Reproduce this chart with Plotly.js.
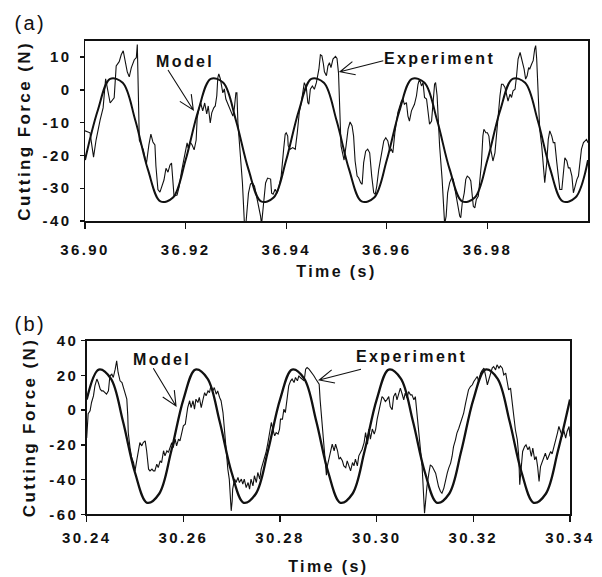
<!DOCTYPE html>
<html>
<head>
<meta charset="utf-8">
<script src="https://cdn.plot.ly/plotly-3.0.1.min.js"></script>
<style>
html,body{margin:0;padding:0;background:#fff;}
#chart svg text{letter-spacing:2.4px;}
</style>
</head>
<body>
<div id="chart" style="width:602px;height:577px;"></div>
<script>
// ---------- Panel (a): experiment ----------
const tA = [36.9000,36.9010,36.9017,36.9022,36.9030,36.9036,36.9041,36.9046,36.9050,36.9058,
36.9062,36.9068,36.9072,36.9076,36.9080,36.9084,36.9088,36.9092,36.9098,36.9102,
36.9104,36.9108,36.9116,36.9122,36.9127,36.9131,36.9135,36.9139,36.9141,36.9145,
36.9149,36.9157,36.9161,36.9165,36.9169,36.9172,36.9174,36.9177,36.9183,36.9187,
36.9192,36.9199,36.9203,36.9205,36.9209,36.9213,36.9217,36.9221,36.9223,36.9227,
36.9230,36.9234,36.9238,36.9242,36.9245,36.9249,36.9252,36.9256,36.9259,36.9262,
36.9264,36.9266,36.9269,36.9274,36.9277,36.9280,36.9283,36.9287,36.9290,36.9294,
36.9297,36.9300,36.9302,36.9304,36.9313,36.9317,36.9320,36.9325,36.9329,36.9333,
36.9337,36.9340,36.9345,36.9349,36.9351,36.9355,36.9359,36.9363,36.9369,36.9371,
36.9374,36.9378,36.9382,36.9385,36.9390,36.9395,36.9398,36.9400,36.9403,36.9404,
36.9408,36.9413,36.9418,36.9422,36.9426,36.9430,36.9433,36.9436,36.9440,36.9443,
36.9445,36.9448,36.9452,36.9456,36.9460,36.9463,36.9465,36.9468,36.9471,36.9474,
36.9476,36.9480,36.9483,36.9486,36.9489,36.9493,36.9498,36.9501,36.9504,36.9509,
36.9515,36.9519,36.9523,36.9527,36.9531,36.9534,36.9537,36.9541,36.9544,36.9548,
36.9551,36.9554,36.9558,36.9562,36.9566,36.9570,36.9574,36.9577,36.9580,36.9584,
36.9589,36.9594,36.9598,36.9602,36.9606,36.9609,36.9612,36.9616,36.9622,36.9629,
36.9632,36.9635,36.9639,36.9642,36.9645,36.9649,36.9652,36.9655,36.9659,36.9662,
36.9665,36.9669,36.9672,36.9675,36.9679,36.9682,36.9685,36.9689,36.9692,36.9695,
36.9697,36.9700,36.9702,36.9705,36.9710,36.9715,36.9718,36.9721,36.9725,36.9729,
36.9732,36.9735,36.9738,36.9742,36.9745,36.9747,36.9750,36.9754,36.9757,36.9760,
36.9764,36.9767,36.9770,36.9772,36.9775,36.9778,36.9782,36.9785,36.9788,36.9791,
36.9793,36.9797,36.9800,36.9803,36.9805,36.9808,36.9811,36.9815,36.9818,36.9821,
36.9825,36.9828,36.9831,36.9835,36.9838,36.9841,36.9845,36.9848,36.9851,36.9855,
36.9858,36.9861,36.9865,36.9868,36.9871,36.9873,36.9876,36.9879,36.9882,36.9884,
36.9888,36.9891,36.9894,36.9896,36.9898,36.9901,36.9904,36.9908,36.9911,36.9914,
36.9918,36.9921,36.9924,36.9928,36.9931,36.9934,36.9938,36.9941,36.9944,36.9948,
36.9951,36.9954,36.9958,36.9961,36.9964,36.9968,36.9971,36.9974,36.9978,36.9981,
36.9984,36.9987,36.9991,36.9994,36.9997,37.0000];
const fA = [-12.5,-13.1,-20.5,-15.3,-9.2,-5.5,3.4,-1.5,-4.0,-2.4,
7.3,8.6,10.7,11.9,8.3,5.5,4.0,6.7,9.2,9.8,
13.8,-15.3,-18.3,-22.6,-16.8,-13.5,-15.9,-16.8,-23.2,-30.4,
-31.2,-27.5,-23.9,-25.1,-22.9,-22.3,-26.3,-32.4,-32.1,-29.7,
-24.8,-18.7,-16.2,-17.7,-15.9,-16.8,-18.3,-15.3,-8.6,-5.5,
-4.0,-6.4,-4.0,-7.3,-4.9,-10.1,-7.0,-5.5,-4.9,-1.8,
3.7,4.9,3.4,-0.9,0.3,-2.8,-4.0,-5.5,-7.0,-8.0,
-5.5,-0.9,-0.9,-10.1,-28.4,-41,-40.7,-31.5,-28.7,-28.4,
-29.4,-31.5,-34.9,-38.5,-41,-34.6,-28.4,-26.9,-27.2,-31.5,
-31.8,-30.3,-31.5,-30.0,-26.3,-18.0,-13.5,-13.1,-14.1,-17.1,
-18.1,-17.6,-18.1,-13.1,-6.9,-3.9,-0.3,2.2,0.7,-3.9,
-4.4,0.2,1.2,0.2,2.2,4.3,6.3,10.7,10.4,7.9,
5.5,4.3,7.3,8.3,6.8,9.4,10.2,9.6,5.2,-17.1,
-21.4,-17.1,-12.0,-9.8,-11.0,-14.1,-21.7,-26.3,-26.8,-28.3,
-28.8,-22.2,-18.7,-18.1,-19.2,-26.3,-31.4,-31.9,-29.4,-24.3,
-19.2,-15.6,-14.6,-15.6,-18.7,-18.1,-19.2,-13.1,-6.9,-3.4,
-2.8,-4.4,-3.9,-8.0,-9.5,-6.4,-5.4,-4.4,-1.8,1.7,
3.3,1.2,2.2,-2.3,-2.8,-6.9,-10.5,-9.5,-2.3,1.7,
2.2,-1.8,-8.0,-17.1,-27.3,-41,-38.5,-31.4,-28.3,-26.8,
-27.3,-29.9,-31.4,-35.0,-38.5,-39.0,-34.5,-31.4,-27.3,-26.3,
-26.8,-27.8,-32.4,-35.5,-36.0,-33.4,-32.4,-28.3,-22.7,-14.1,
-12.0,-13.1,-13.1,-14.1,-17.1,-19.2,-21.7,-19.2,-14.1,-6.9,
-1.8,1.7,1.7,0.7,-1.8,-3.4,-1.3,-2.3,-0.3,0.2,
4.3,9.4,11.4,9.4,7.9,6.3,3.3,4.3,6.8,6.3,
7.9,8.9,12.4,13.5,9.4,-3.9,-12.0,-17.1,-23.2,-28.3,
-22.2,-15.1,-12.5,-14.1,-16.1,-16.1,-22.2,-27.3,-30.4,-30.4,
-24.3,-20.7,-21.7,-23.8,-23.8,-26.3,-31.4,-29.4,-27.3,-26.3,
-22.2,-18.1,-16.1,-15.6,-15.1,-16.1];

// ---------- Panel (a): model ----------
const tmA = [36.9000,36.9025,36.9050,36.9075,36.9100,36.9125,36.9150,36.9175,
36.9200,36.9225,36.9250,36.9275,36.9300,36.9325,36.9350,36.9375,
36.9400,36.9425,36.9450,36.9475,36.9500,36.9525,36.9550,36.9575,
36.9600,36.9625,36.9650,36.9675,36.9700,36.9725,36.9750,36.9775,
36.9800,36.9825,36.9850,36.9875,36.9900,36.9925,36.9950,36.9975,37.0000];
const mA = [-21.42,-6.43,3.34,2.16,-9.28,-24.27,-34.04,-32.86,
-21.42,-6.43,3.34,2.16,-9.28,-24.27,-34.04,-32.86,
-21.42,-6.43,3.34,2.16,-9.28,-24.27,-34.04,-32.86,
-21.42,-6.43,3.34,2.16,-9.28,-24.27,-34.04,-32.86,
-21.42,-6.43,3.34,2.16,-9.28,-24.27,-34.04,-32.86,-21.42];

// ---------- Panel (b): experiment ----------
const tB = [30.2400,30.2403,30.2407,30.2410,30.2414,30.2417,30.2421,30.2424,30.2428,30.2431,
30.2434,30.2438,30.2441,30.2445,30.2448,30.2452,30.2455,30.2459,30.2462,30.2465,
30.2469,30.2473,30.2476,30.2479,30.2483,30.2485,30.2486,30.2490,30.2493,30.2497,
30.2500,30.2504,30.2507,30.2510,30.2514,30.2517,30.2521,30.2524,30.2528,30.2531,
30.2535,30.2538,30.2541,30.2545,30.2548,30.2552,30.2555,30.2559,30.2562,30.2566,
30.2569,30.2573,30.2576,30.2579,30.2583,30.2586,30.2590,30.2593,30.2597,30.2600,
30.2604,30.2606,30.2609,30.2613,30.2616,30.2620,30.2623,30.2626,30.2630,30.2633,
30.2637,30.2640,30.2644,30.2647,30.2651,30.2654,30.2657,30.2661,30.2664,30.2668,
30.2671,30.2675,30.2678,30.2682,30.2684,30.2689,30.2692,30.2695,30.2699,30.2701,
30.2702,30.2706,30.2709,30.2713,30.2716,30.2720,30.2723,30.2726,30.2730,30.2734,
30.2737,30.2740,30.2744,30.2747,30.2751,30.2754,30.2758,30.2761,30.2765,30.2768,
30.2771,30.2775,30.2778,30.2782,30.2785,30.2789,30.2792,30.2796,30.2799,30.2801,
30.2805,30.2808,30.2811,30.2815,30.2818,30.2822,30.2825,30.2829,30.2832,30.2836,
30.2839,30.2842,30.2846,30.2850,30.2853,30.2856,30.2860,30.2863,30.2867,30.2870,
30.2874,30.2877,30.2881,30.2883,30.2887,30.2890,30.2894,30.2896,30.2898,30.2901,
30.2905,30.2908,30.2912,30.2915,30.2919,30.2922,30.2925,30.2929,30.2932,30.2936,
30.2939,30.2943,30.2946,30.2950,30.2953,30.2956,30.2960,30.2963,30.2967,30.2970,
30.2974,30.2977,30.2981,30.2984,30.2987,30.2991,30.2995,30.2998,30.3001,30.3004,
30.3008,30.3011,30.3014,30.3018,30.3021,30.3025,30.3028,30.3032,30.3035,30.3039,
30.3042,30.3045,30.3049,30.3053,30.3056,30.3059,30.3063,30.3066,30.3070,30.3073,
30.3077,30.3080,30.3084,30.3087,30.3090,30.3094,30.3099,30.3101,30.3104,30.3108,
30.3111,30.3115,30.3118,30.3122,30.3125,30.3128,30.3132,30.3135,30.3139,30.3142,
30.3146,30.3149,30.3153,30.3156,30.3159,30.3163,30.3166,30.3170,30.3173,30.3177,
30.3180,30.3184,30.3187,30.3190,30.3194,30.3198,30.3201,30.3204,30.3208,30.3211,
30.3215,30.3218,30.3222,30.3225,30.3229,30.3232,30.3235,30.3239,30.3242,30.3246,
30.3249,30.3253,30.3256,30.3260,30.3263,30.3267,30.3270,30.3273,30.3277,30.3280,
30.3284,30.3287,30.3291,30.3294,30.3296,30.3299,30.3302,30.3306,30.3309,30.3313,
30.3316,30.3320,30.3323,30.3327,30.3330,30.3333,30.3336,30.3339,30.3343,30.3346,
30.3349,30.3353,30.3356,30.3360,30.3363,30.3367,30.3370,30.3374,30.3377,30.3380,
30.3384,30.3387,30.3391,30.3394,30.3398,30.3400];
const fB = [-16.0,-2.1,-0.4,4.4,8.2,14.0,17.9,15.9,12.1,11.1,
11.1,10.1,9.2,11.1,19.8,20.7,18.8,23.6,28.4,21.7,
16.9,15.9,13.0,10.1,6.3,-3.3,-12.9,-22.5,-27.3,-30.2,
-35.0,-28.2,-23.4,-18.7,-20.6,-18.7,-17.7,-23.4,-34.0,-35.0,
-34.0,-35.0,-35.0,-31.1,-33.1,-29.2,-30.2,-23.4,-26.3,-23.4,
-24.4,-20.6,-18.7,-21.6,-16.7,-20.6,-16.7,-17.7,-12.9,-9.0,
-8.1,-3.3,1.5,5.4,1.5,5.4,0.6,6.3,4.4,7.3,
1.5,5.4,10.1,8.2,11.1,10.1,14.0,11.1,13.0,9.2,
11.1,7.3,5.4,-1.4,-9.0,-28.2,-34.0,-39.7,-58.0,-52.3,
-45.5,-39.7,-41.7,-38.8,-41.7,-39.7,-42.6,-39.7,-44.6,-41.7,
-45.5,-39.7,-43.6,-37.8,-41.7,-35.9,-39.7,-34.0,-30.2,-28.2,
-24.4,-18.7,-12.9,-7.1,-10.9,-14.8,-12.9,-13.8,-10.9,-5.2,
-5.2,0.6,-1.4,9.2,14.0,16.9,17.9,15.9,18.8,16.9,
19.8,18.8,17.9,16.9,23.6,24.5,23.6,22.6,20.7,19.8,
17.9,16.9,15.0,5.9,-7.5,-21.0,-34.4,-37.5,-32.1,-28.2,
-23.4,-19.6,-23.4,-19.6,-23.4,-28.2,-27.3,-29.2,-32.1,-33.1,
-29.2,-32.1,-35.0,-30.2,-32.1,-28.2,-32.1,-26.3,-24.4,-22.5,
-18.7,-12.9,-19.6,-10.9,-16.7,-10.9,-13.8,-10.9,-5.2,-1.7,
4.0,7.8,6.9,5.0,5.9,7.8,2.1,0.2,7.8,9.8,
5.9,8.8,12.7,9.0,5.9,9.8,7.0,10.7,8.8,8.8,
5.9,7.8,-3.7,-12.3,-21.0,-32.5,-59.4,-51.7,-44.0,-36.3,
-31.5,-32.5,-34.4,-36.3,-40.2,-44.0,-46.9,-47.8,-44.9,-40.2,
-36.3,-33.4,-30.5,-26.7,-21.0,-17.1,-13.2,-10.4,-7.5,-4.6,
-1.7,4.0,7.8,11.7,13.6,14.6,16.5,17.5,19.4,16.5,
21.3,22.8,24.2,20.3,14.6,17.5,20.3,24.2,25.1,23.2,
26.1,24.2,25.5,24.2,20.3,21.3,16.5,11.7,12.7,5.9,
-5.6,-11.3,-17.1,-26.7,-43.0,-32.5,-23.8,-21.0,-20.0,-22.9,
-21.0,-26.7,-21.9,-28.6,-26.7,-32.5,-41.1,-32.5,-29.6,-27.6,
-24.8,-28.6,-26.7,-23.8,-25.2,-21.0,-19.0,-13.2,-9.4,-12.3,
-15.2,-11.3,-16.1,-12.3,-9.4,-15.2];

// ---------- Panel (b): model ----------
const tmB = [30.2400,30.2425,30.2450,30.2475,30.2500,30.2525,30.2550,30.2575,
30.2600,30.2625,30.2650,30.2675,30.2700,30.2725,30.2750,30.2775,
30.2800,30.2825,30.2850,30.2875,30.2900,30.2925,30.2950,30.2975,
30.3000,30.3025,30.3050,30.3075,30.3100,30.3125,30.3150,30.3175,
30.3200,30.3225,30.3250,30.3275,30.3300,30.3325,30.3350,30.3375,30.3400];
const mB = [6.07,23.36,18.17,-6.43,-36.07,-53.36,-48.17,-23.57,
6.07,23.36,18.17,-6.43,-36.07,-53.36,-48.17,-23.57,
6.07,23.36,18.17,-6.43,-36.07,-53.36,-48.17,-23.57,
6.07,23.36,18.17,-6.43,-36.07,-53.36,-48.17,-23.57,
6.07,23.36,18.17,-6.43,-36.07,-53.36,-48.17,-23.57,6.07];

// ---------- Ticks ----------
const xTickValsA = [36.90, 36.92, 36.94, 36.96, 36.98];
const xTickTextA = ['36.90', '36.92', '36.94', '36.96', '36.98'];
const yTickValsA = [-40, -30, -20, -10, 0, 10];
const yTickTextA = ['-40', '-30', '-20', '-10', '0', '10'];
const xTickValsB = [30.24, 30.26, 30.28, 30.30, 30.32, 30.34];
const xTickTextB = ['30.24', '30.26', '30.28', '30.30', '30.32', '30.34'];
const yTickValsB = [-60, -40, -20, 0, 20, 40];
const yTickTextB = ['-60', '-40', '-20', '0', '20', '40'];

const INK = '#111111';
const FONT = 'Liberation Sans, Arial, Helvetica, sans-serif';
const W = 602, H = 577;
const px = v => v / W;
const py = v => 1 - v / H;

const data = [
  {x: tA, y: fA, xaxis: 'x', yaxis: 'y', type: 'scatter', mode: 'lines', name: 'Experiment',
   line: {color: INK, width: 1.1}},
  {x: tmA, y: mA, xaxis: 'x', yaxis: 'y', type: 'scatter', mode: 'lines', name: 'Model',
   line: {color: INK, width: 2, shape: 'spline', smoothing: 1}},
  {x: tB, y: fB, xaxis: 'x2', yaxis: 'y2', type: 'scatter', mode: 'lines', name: 'Experiment',
   line: {color: INK, width: 1.1}},
  {x: tmB, y: mB, xaxis: 'x2', yaxis: 'y2', type: 'scatter', mode: 'lines', name: 'Model',
   line: {color: INK, width: 2.3, shape: 'spline', smoothing: 1}}
];

function xAxis(dom, range, vals, text, standoff, tstand) {
  return {
    domain: dom, range: range, tickmode: 'array', tickvals: vals, ticktext: text,
    ticks: 'outside', ticklen: 6, tickwidth: 1.3, tickcolor: INK,
    showline: true, mirror: true, linewidth: 1.5, linecolor: INK,
    showgrid: false, zeroline: false, fixedrange: true,
    tickfont: {family: FONT, size: 15, color: INK, weight: 'bold'},
    ticklabelstandoff: standoff,
    title: {text: 'Time (s)', font: {family: FONT, size: 16, color: INK, weight: 'bold'}, standoff: tstand}
  };
}
function yAxis(dom, range, vals, text, standoff, tstand) {
  return {
    domain: dom, range: range, tickmode: 'array', tickvals: vals, ticktext: text,
    ticks: 'outside', ticklen: 4, tickwidth: 1.3, tickcolor: INK,
    showline: true, mirror: true, linewidth: 1.5, linecolor: INK,
    showgrid: false, zeroline: false, fixedrange: true,
    tickfont: {family: FONT, size: 15, color: INK, weight: 'bold'},
    ticklabelstandoff: standoff,
    title: {text: 'Cutting Force (N)', font: {family: FONT, size: 17, color: INK, weight: 'bold'}, standoff: tstand}
  };
}

// arrow geometry (pixel positions of tail and tip)
const arrows = [
  {tail: [168, 70], tip: [193.3, 110]},
  {tail: [383.3, 60.7], tip: [340, 71.7]},
  {tail: [153.3, 368.3], tip: [176, 406]},
  {tail: [361, 369.3], tip: [319.3, 380]}
];
const shapes = arrows.map(a => {
  const dx = a.tail[0] - a.tip[0], dy = a.tail[1] - a.tip[1];
  const L = Math.hypot(dx, dy), ux = dx / L, uy = dy / L;
  const len = 16, ang = 25 * Math.PI / 180;
  const rot = s => [a.tip[0] + len * (ux * Math.cos(s) - uy * Math.sin(s)),
                    a.tip[1] + len * (ux * Math.sin(s) + uy * Math.cos(s))];
  const b1 = rot(ang), b2 = rot(-ang);
  const P = p => px(p[0]) + ',' + py(p[1]);
  return {
    type: 'path', xref: 'paper', yref: 'paper',
    path: 'M' + P(a.tail) + 'L' + P(a.tip) + 'M' + P(b1) + 'L' + P(a.tip) + 'L' + P(b2),
    line: {color: INK, width: 1.1}
  };
});

const annFont = {family: FONT, size: 16, color: INK, weight: 'bold'};
const annotations = [
  {text: '(a)', xref: 'paper', yref: 'paper', x: px(30), y: py(23), xanchor: 'center', yanchor: 'middle',
   showarrow: false, font: {family: FONT, size: 20, color: INK}},
  {text: '(b)', xref: 'paper', yref: 'paper', x: px(30), y: py(324), xanchor: 'center', yanchor: 'middle',
   showarrow: false, font: {family: FONT, size: 20, color: INK}},
  {text: 'Model', xref: 'paper', yref: 'paper', x: px(185), y: py(62), xanchor: 'center', yanchor: 'middle',
   showarrow: false, font: annFont},
  {text: 'Experiment', xref: 'paper', yref: 'paper', x: px(440), y: py(58), xanchor: 'center', yanchor: 'middle',
   showarrow: false, font: annFont},
  {text: 'Model', xref: 'paper', yref: 'paper', x: px(162), y: py(359), xanchor: 'center', yanchor: 'middle',
   showarrow: false, font: annFont},
  {text: 'Experiment', xref: 'paper', yref: 'paper', x: px(412), y: py(356), xanchor: 'center', yanchor: 'middle',
   showarrow: false, font: annFont}
];

const layout = {
  width: W, height: H,
  margin: {l: 0, r: 0, t: 0, b: 0},
  paper_bgcolor: '#ffffff', plot_bgcolor: '#ffffff',
  showlegend: false, hovermode: false,
  font: {family: FONT, color: INK},
  xaxis: Object.assign(xAxis([px(85), px(588)], [36.90, 37.00], xTickValsA, xTickTextA, 8, 9), {anchor: 'y'}),
  yaxis: Object.assign(yAxis([py(221), py(40.7)], [-40, 15], yTickValsA, yTickTextA, 5, 14.5), {anchor: 'x'}),
  xaxis2: Object.assign(xAxis([px(86.7), px(570)], [30.24, 30.34], xTickValsB, xTickTextB, 3, 16), {anchor: 'y2'}),
  yaxis2: Object.assign(yAxis([py(514.3), py(340.7)], [-60, 40], yTickValsB, yTickTextB, 0, 16.5), {anchor: 'x2'}),
  shapes: shapes,
  annotations: annotations
};

Plotly.newPlot('chart', data, layout, {staticPlot: true, displayModeBar: false});
</script>
</body>
</html>
